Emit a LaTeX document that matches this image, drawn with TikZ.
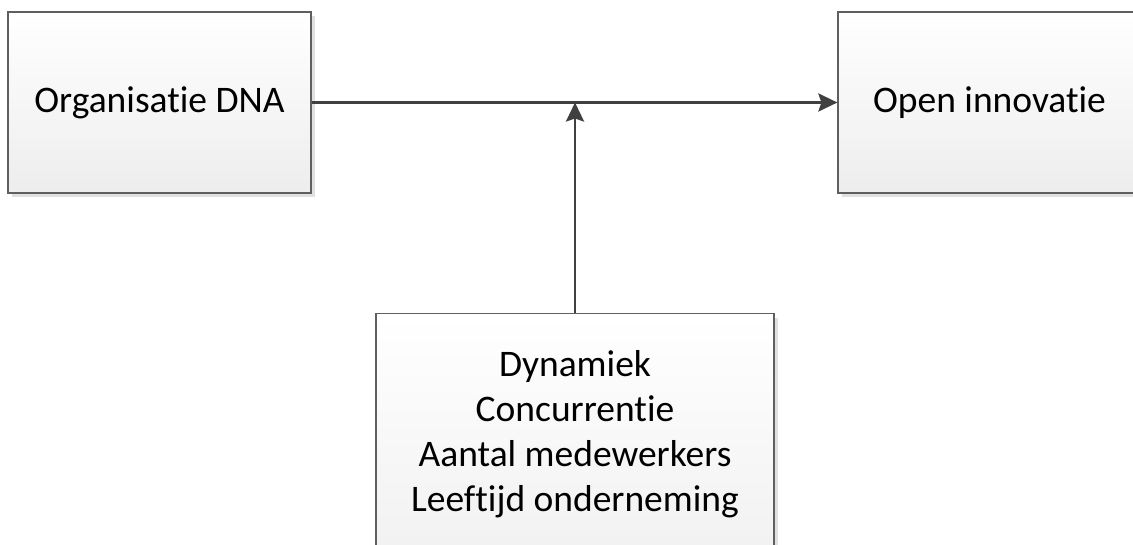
\documentclass[tikz,border=0pt]{standalone}
\usepackage{fontspec}
\setmainfont{Carlito}[Ligatures={NoCommon}]
\usetikzlibrary{arrows.meta,shadows}
\definecolor{linegrey}{HTML}{404040}
\definecolor{boxedge}{HTML}{5F5F5F}
\tikzset{
  factorbox/.style={draw=boxedge, line width=1.2pt, rectangle, top color=white, bottom color=black!7,
    drop shadow={shadow xshift=4pt, shadow yshift=-4pt, fill=black!12, opacity=1}, inner sep=0pt},
  bigtext/.style={font=\fontsize{37.5}{45}\selectfont},
  link/.style={draw=linegrey, line width=2.8pt, -{Stealth[length=19pt,width=18pt,inset=3pt]}}
}
\begin{document}
\begin{tikzpicture}[x=1pt,y=-1pt]
\useasboundingbox (0,0) rectangle (1133,545);
\node[factorbox, bigtext, minimum width=303pt, minimum height=181pt] (dna) at (159.5,102.5) {Organisatie DNA};
\node[factorbox, bigtext, minimum width=303pt, minimum height=181pt] (oi) at (989.5,102.5) {Open innovatie};
\node[factorbox, bigtext, anchor=north, minimum width=398pt, align=center, inner ysep=37pt, text depth=80pt]
  (ctx) at (575,313) {Dynamiek\\Concurrentie\\Aantal medewerkers\\Leeftijd onderneming};
\coordinate (mid) at (ctx.north |- dna.east);

\draw[link] (dna) -- (oi);
\draw[link] (ctx) -- (mid);
\end{tikzpicture}
\end{document}
